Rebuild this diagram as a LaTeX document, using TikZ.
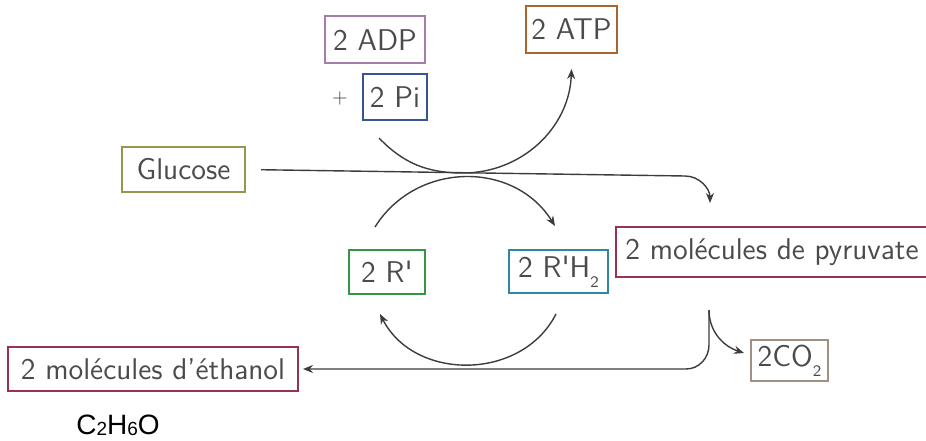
\documentclass[tikz,border=0pt]{standalone}
\usepackage{fontspec}
\newfontfamily\arialfont{Liberation Sans}
\usepackage{tikz}
\usetikzlibrary{arrows.meta}

\definecolor{gristexte}{RGB}{75,75,75}
\definecolor{grisfleche}{RGB}{60,60,60}
\definecolor{violetadp}{RGB}{165,125,170}
\definecolor{bleupi}{RGB}{55,85,145}
\definecolor{brunatp}{RGB}{170,100,45}
\definecolor{olivegluc}{RGB}{150,150,80}
\definecolor{vertr}{RGB}{50,150,70}
\definecolor{bleurh}{RGB}{50,135,160}
\definecolor{bordeaux}{RGB}{150,50,85}
\definecolor{taupe}{RGB}{160,145,130}

\newcommand{\indice}[1]{\raisebox{-5pt}{\fontsize{8}{8}\selectfont #1}}
\newcommand{\indicef}[1]{\raisebox{-0.5pt}{\fontsize{9.5}{10}\selectfont #1}}

\begin{document}
\begin{tikzpicture}[x=0.5pt, y=0.5pt,
    boite/.style={draw, line width=1pt, inner sep=0pt, text=gristexte,
        font=\sffamily\fontsize{15}{18}\selectfont},
    fleche/.style={-{Stealth[length=5pt,width=4pt]}, line width=0.7pt, draw=grisfleche}]
        \useasboundingbox (0,0) rectangle (926,440);

        % les boites
        \node[boite, draw=violetadp, minimum width=50pt, minimum height=23.5pt] (adp) at (375,400) {2 ADP};
        \node[boite, draw=bleupi, minimum width=32pt, minimum height=23pt] (pi) at (395,343) {2 Pi};
        \node[text=gristexte, font=\sffamily\fontsize{10}{12}\selectfont] (plus) at (340,341) {+};
        \node[boite, draw=brunatp, minimum width=45.5pt, minimum height=23.5pt] (atp) at (571.5,410.5) {2 ATP};
        \node[boite, draw=olivegluc, minimum width=61.5pt, minimum height=22.5pt] (glucose) at (183.5,270.5) {Glucose};
        \node[boite, draw=vertr, minimum width=38pt, minimum height=22pt] (rp) at (387,168) {2 R\textquotesingle};
        \node[boite, draw=bleurh, minimum width=49.5pt, minimum height=21.5pt] (rph) at (558.5,168.5) {2 R\textquotesingle H\indice{2}};
        \node[boite, draw=bordeaux, minimum width=156pt, minimum height=25pt] (pyr) at (772,188) {2 molécules de pyruvate};
        \node[boite, draw=bordeaux, minimum width=145pt, minimum height=22pt] (ethanol) at (153,71) {2 molécules d'éthanol};
        \node[boite, draw=taupe, minimum width=38.5pt, minimum height=20.5pt] (co2) at (789.5,79.5) {2CO\indice{2}};
        \node[font=\arialfont\fontsize{14}{16}\selectfont] (formule) at (118,15) {C\indicef{2}H\indicef{6}O};

        \coordinate (pyrin) at (710,237);
        \coordinate (pyrout) at (709,130);

        % ADP + Pi -> ATP
        \draw[fleche] ([xshift=-8pt,yshift=-8.5pt]pi.south) to[out=-46,in=180] (463,267)
            to[out=0,in=-92] ([yshift=-7.5pt]atp.south);
        % glucose -> pyruvate
        \draw[fleche, shorten <=7.5pt] (glucose.east) -- (685,264) to[out=0,in=90] (pyrin);
        % cycle R' / R'H2
        \draw[fleche] ([xshift=-6pt,yshift=11pt]rp.north) to[out=58,in=122,looseness=1.1]
            ([xshift=-1.75pt,yshift=11.5pt]rph.north);
        \draw[fleche] ([xshift=-1.25pt,yshift=-10pt]rph.south) to[out=-117,in=-63,looseness=1.1]
            ([xshift=-3.5pt,yshift=-9.5pt]rp.south);
        % pyruvate -> ethanol + CO2
        \draw[fleche, shorten >=2pt] (pyrout) -- (709,95) to[out=-90,in=0] (686,71) -- (ethanol.east);
        \draw[fleche] (pyrout) to[out=-90,in=162] ([xshift=-3pt,yshift=3.75pt]co2.west);
    \end{tikzpicture}
\end{document}
